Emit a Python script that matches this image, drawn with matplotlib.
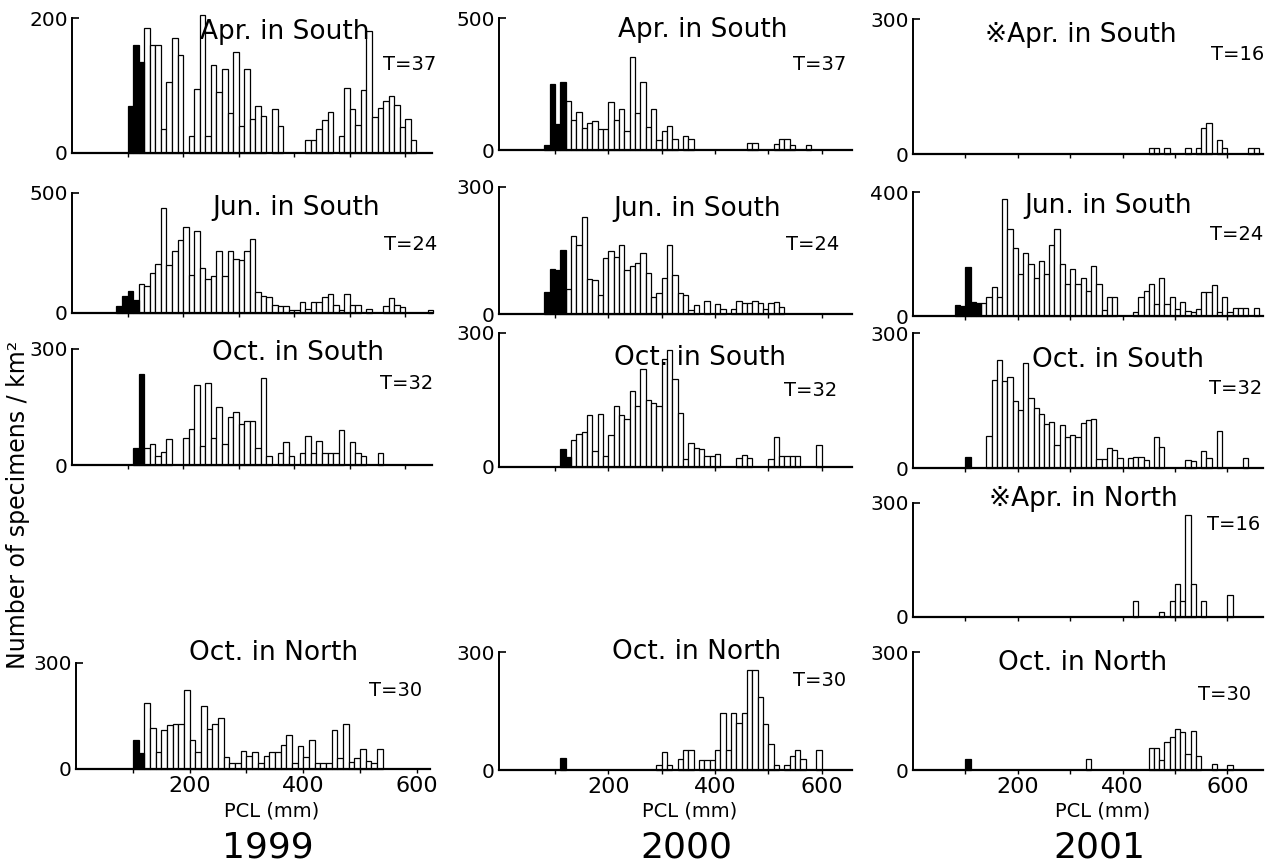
import numpy as np
import matplotlib.pyplot as plt

plt.rcParams['font.family'] = ['DejaVu Sans', 'Noto Sans CJK JP']

BIN = 10  # PCL class width (mm)

# ---- 1999 ----
s99_apr_dark_from = 100
s99_apr_dark = [70, 160, 135]
s99_apr_from = 130
s99_apr = [185, 160, 160, 35, 105, 170, 145, 0, 25, 95, 205, 25, 130, 90, 125, 60, 150, 40,
           125, 50, 70, 55, 0, 65, 40, 0, 0, 0, 0, 19, 19, 36, 49, 61, 0, 25, 96, 65, 41, 93,
           181, 53, 67, 77, 84, 71, 39, 50, 19]

s99_jun_dark_from = 80
s99_jun_dark = [28, 69, 90, 56]
s99_jun_from = 120
s99_jun = [122, 111, 167, 206, 437, 201, 257, 303, 358, 160, 340, 187, 143, 153, 257, 153,
           257, 225, 222, 257, 308, 86, 72, 67, 32, 28, 28, 11, 14, 46, 17, 44, 44, 67, 79,
           35, 14, 81, 35, 35, 0, 17, 0, 0, 28, 63, 32, 24, 0, 0, 0, 0, 14]

s99_oct_dark_from = 110
s99_oct_dark = [45, 236]
s99_oct_from = 130
s99_oct = [45, 54, 24, 33, 67, 0, 0, 69, 93, 207, 48, 212, 71, 151, 54, 123, 138, 106, 115,
           115, 43, 224, 23, 0, 30, 60, 23, 0, 30, 76, 30, 63, 30, 30, 30, 91, 0, 60, 30, 23,
           0, 0, 30]

n99_oct_dark_from = 100
n99_oct_dark = [81, 45]
n99_oct_from = 120
n99_oct = [186, 117, 48, 111, 125, 127, 127, 225, 81, 48, 178, 112, 127, 145, 34, 17, 17, 50,
           36, 47, 17, 36, 47, 47, 67, 96, 17, 64, 34, 81, 17, 17, 17, 109, 31, 127, 19, 31,
           57, 22, 17, 56]

# ---- 2000 ----
s00_apr_dark_from = 80
s00_apr_dark = [19, 250, 99, 256]
s00_apr_from = 120
s00_apr = [184, 114, 143, 82, 101, 111, 80, 78, 181, 114, 157, 72, 352, 139, 259, 86, 154, 38,
           72, 90, 41, 0, 54, 41, 0, 0, 0, 0, 0, 0, 0, 0, 0, 0, 25, 25, 0, 0, 0, 22, 41, 41,
           19, 0, 0, 19]

s00_jun_dark_from = 80
s00_jun_dark = [53, 106, 104, 152]
s00_jun_from = 120
s00_jun = [58, 184, 164, 228, 82, 80, 46, 133, 149, 135, 163, 105, 113, 121, 143, 96, 41, 50,
           84, 164, 93, 50, 46, 9, 21, 0, 31, 0, 23, 11, 0, 11, 31, 27, 27, 31, 25, 12, 25,
           29, 17]

s00_oct_dark_from = 110
s00_oct_dark = [40, 22]
s00_oct_from = 130
s00_oct = [60, 73, 79, 116, 35, 118, 25, 71, 137, 116, 107, 171, 137, 219, 149, 144, 137, 242,
           263, 197, 120, 19, 53, 43, 41, 25, 25, 28, 0, 0, 0, 20, 26, 20, 0, 0, 0, 19, 68,
           25, 25, 25, 25, 0, 0, 0, 49]

n00_oct_dark_from = 110
n00_oct_dark = [31]
n00_oct_from = 290
n00_oct = [13, 46, 13, 0, 27, 52, 52, 0, 25, 25, 25, 52, 145, 52, 145, 120, 145, 253, 253, 186,
           118, 66, 13, 0, 13, 35, 52, 27, 0, 0, 51]

# ---- 2001 ----
s01_apr_dark_from = 100
s01_apr_dark = []
s01_apr_from = 450
s01_apr = [14, 14, 0, 14, 0, 0, 0, 14, 0, 14, 57, 70, 0, 31, 14, 0, 0, 0, 0, 14, 14]

s01_jun_dark_from = 80
s01_jun_dark = [35, 32, 159, 46, 41]
s01_jun_from = 130
s01_jun = [41, 60, 94, 62, 379, 282, 218, 137, 202, 169, 121, 177, 137, 228, 282, 169, 103, 151,
           102, 121, 82, 161, 102, 19, 62, 62, 0, 0, 0, 14, 62, 82, 103, 39, 124, 39, 60, 21,
           46, 17, 14, 21, 76, 76, 100, 14, 60, 14, 25, 25, 25, 0, 25]

s01_oct_dark_from = 100
s01_oct_dark = [25]
s01_oct_from = 140
s01_oct = [71, 196, 239, 194, 202, 150, 129, 233, 155, 133, 121, 98, 103, 51, 95, 69, 73, 69,
           101, 106, 108, 21, 21, 45, 39, 23, 0, 23, 25, 25, 17, 0, 69, 47, 0, 0, 0, 0, 17, 16,
           0, 38, 22, 0, 83, 0, 0, 0, 0, 23]

n01_apr_dark_from = 100
n01_apr_dark = []
n01_apr_from = 420
n01_apr = [41, 0, 0, 0, 0, 13, 0, 41, 88, 41, 269, 86, 0, 41, 0, 0, 0, 0, 59]

n01_oct_dark_from = 100
n01_oct_dark = [27]
n01_oct_from = 330
n01_oct = [27, 0, 0, 0, 0, 0, 0, 0, 0, 0, 0, 0, 57, 57, 25, 72, 83, 105, 96, 40, 99, 35, 0, 0,
           15, 0, 0, 13]

W, H = 1274, 866
fig = plt.figure(figsize=(W / 100, H / 100), dpi=100)


def px_axes(left, right, y0, ytop):
    return fig.add_axes([left / W, 1 - y0 / H, (right - left) / W, (y0 - ytop) / H])


def draw_bars(ax, start, vals, dark):
    x = start + BIN * np.arange(len(vals))
    v = np.array(vals, dtype=float)
    keep = v > 0
    ax.bar(x[keep], v[keep], width=BIN, align='edge',
           color='black' if dark else 'white', edgecolor='black', lw=0.9, clip_on=False)


def panel(ax, dark_from, dark, light_from, light, ymax, xlim, bottom=False):
    draw_bars(ax, light_from, light, False)
    if len(dark):
        draw_bars(ax, dark_from, dark, True)
    ax.set_xlim(*xlim)
    ax.set_ylim(0, ymax)
    for s in ['top', 'right']:
        ax.spines[s].set_visible(False)
    ax.spines['left'].set_linewidth(1.4)
    ax.spines['bottom'].set_linewidth(1.6)
    ax.set_yticks([0, ymax])
    ax.set_yticklabels(['0', str(ymax)])
    ax.tick_params(axis='y', direction='in', length=5, width=1.2, labelsize=14.5, pad=3)
    ax.set_xticks(range(100, 700, 100))
    if bottom:
        ax.set_xticklabels(['', '200', '', '400', '', '600'])
    else:
        ax.set_xticklabels([])
    ax.tick_params(axis='x', direction='out', length=3, width=1, labelsize=16, pad=2)


def label(x, y, s, size, **kw):
    fig.text(x / W, 1 - y / H, s, fontsize=size, ha='center', va='center', **kw)


c1 = (0, 648)
c2 = (-5, 657)
c3 = (0, 668)

# column 1999
ax = px_axes(72, 432, 153, 18)
panel(ax, s99_apr_dark_from, s99_apr_dark, s99_apr_from, s99_apr, 200, c1)
ax = px_axes(72, 432, 313, 193)
panel(ax, s99_jun_dark_from, s99_jun_dark, s99_jun_from, s99_jun, 500, c1)
ax = px_axes(72, 432, 465, 349)
panel(ax, s99_oct_dark_from, s99_oct_dark, s99_oct_from, s99_oct, 300, c1)
ax = px_axes(76, 430, 769, 663)
panel(ax, n99_oct_dark_from, n99_oct_dark, n99_oct_from, n99_oct, 300, (0, 623), bottom=True)

# column 2000
ax = px_axes(499, 852, 150, 18)
panel(ax, s00_apr_dark_from, s00_apr_dark, s00_apr_from, s00_apr, 500, c2)
ax = px_axes(499, 852, 314, 187)
panel(ax, s00_jun_dark_from, s00_jun_dark, s00_jun_from, s00_jun, 300, c2)
ax = px_axes(499, 852, 467, 333)
panel(ax, s00_oct_dark_from, s00_oct_dark, s00_oct_from, s00_oct, 300, c2)
ax = px_axes(499, 852, 770, 652)
panel(ax, n00_oct_dark_from, n00_oct_dark, n00_oct_from, n00_oct, 300, c2, bottom=True)

# column 2001
ax = px_axes(913, 1263, 154, 19)
panel(ax, s01_apr_dark_from, s01_apr_dark, s01_apr_from, s01_apr, 300, c3)
ax = px_axes(913, 1263, 316, 192)
panel(ax, s01_jun_dark_from, s01_jun_dark, s01_jun_from, s01_jun, 400, c3)
ax = px_axes(913, 1263, 468, 333)
panel(ax, s01_oct_dark_from, s01_oct_dark, s01_oct_from, s01_oct, 300, c3)
ax = px_axes(913, 1263, 617, 503)
panel(ax, n01_apr_dark_from, n01_apr_dark, n01_apr_from, n01_apr, 300, c3)
ax = px_axes(913, 1263, 770, 652)
panel(ax, n01_oct_dark_from, n01_oct_dark, n01_oct_from, n01_oct, 300, c3, bottom=True)

# panel titles and tow counts
titles = [
    (285, 32, 'Apr. in South'), (703, 30, 'Apr. in South'), (1081, 35, '※Apr. in South'),
    (296, 208, 'Jun. in South'), (697, 209, 'Jun. in South'), (1108, 206, 'Jun. in South'),
    (298, 353, 'Oct. in South'), (700, 358, 'Oct. in South'), (1118, 360, 'Oct. in South'),
    (1083, 499, '※Apr. in North'),
    (274, 653, 'Oct. in North'), (697, 652, 'Oct. in North'), (1083, 663, 'Oct. in North'),
]
for x, y, s in titles:
    label(x, y, s, 19)

tows = [
    (410, 64, 'T=37'), (820, 64, 'T=37'), (1238, 55, 'T=16'),
    (411, 244, 'T=24'), (813, 244, 'T=24'), (1237, 235, 'T=24'),
    (407, 383, 'T=32'), (811, 391, 'T=32'), (1236, 388, 'T=32'),
    (1234, 524, 'T=16'),
    (396, 690, 'T=30'), (820, 680, 'T=30'), (1225, 695, 'T=30'),
]
for x, y, s in tows:
    label(x, y, s, 14)

for x, yr in [(272, '1999'), (690, '2000'), (1103, '2001')]:
    label(x, 811, 'PCL (mm)', 14)
    label(x - 4, 847, yr, 26)

label(18, 505, 'Number of specimens / km²', 17, rotation=90)

fig.savefig('out.png', dpi=100)
